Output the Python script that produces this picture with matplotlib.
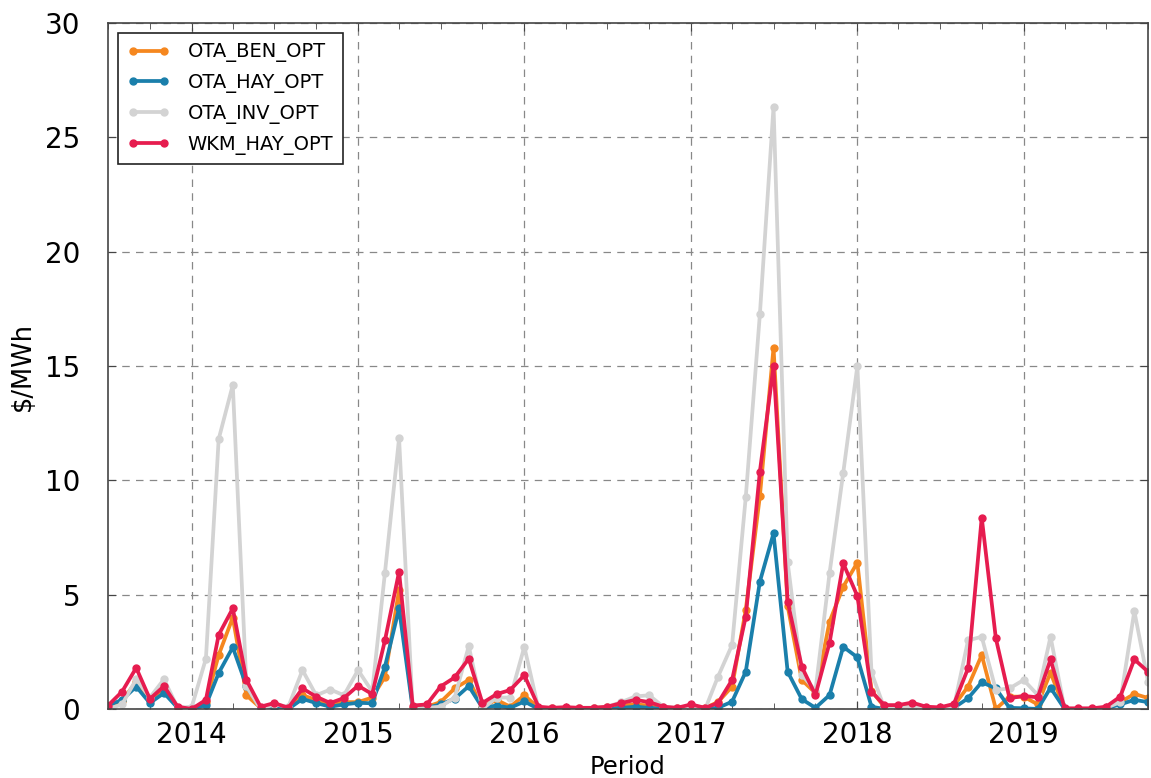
import numpy as np
import pandas as pd
import matplotlib
matplotlib.use('Agg')
import matplotlib.pyplot as plt
import matplotlib.dates as mdates

periods = pd.date_range('2013-07-01', periods=76, freq='MS')

ota_ben = [0.10, 0.35, 1.20, 0.40, 0.90, 0.05, 0.00, 0.30, 2.36, 4.00,
           0.60, 0.05, 0.20, 0.05, 0.60, 0.40, 0.20, 0.30, 0.30, 0.50,
           1.41, 5.20, 0.05, 0.10, 0.30, 0.90, 1.27, 0.10, 0.40, 0.10,
           0.60, 0.05, 0.05, 0.05, 0.05, 0.05, 0.10, 0.15, 0.20, 0.15,
           0.05, 0.05, 0.10, 0.05, 0.30, 0.98, 4.33, 9.31, 15.80, 4.50,
           1.27, 0.70, 3.82, 5.35, 6.40, 0.80, 0.10, 0.10, 0.15, 0.05,
           0.05, 0.15, 0.98, 2.36, 0.00, 0.54, 0.54, 0.20, 1.59, 0.00,
           0.00, 0.00, 0.05, 0.30, 0.66, 0.48]

ota_hay = [0.15, 0.40, 0.98, 0.26, 0.70, 0.05, 0.00, 0.17, 1.57, 2.70,
           1.00, 0.05, 0.05, 0.00, 0.44, 0.26, 0.10, 0.20, 0.27, 0.25,
           1.85, 4.40, 0.00, 0.05, 0.20, 0.45, 1.00, 0.05, 0.15, 0.05,
           0.33, 0.00, 0.00, 0.00, 0.00, 0.00, 0.00, 0.05, 0.10, 0.05,
           0.00, 0.00, 0.05, 0.00, 0.05, 0.32, 1.63, 5.57, 7.68, 1.63,
           0.43, 0.05, 0.61, 2.72, 2.26, 0.10, 0.00, 0.00, 0.05, 0.00,
           0.00, 0.05, 0.47, 1.17, 0.90, 0.05, 0.03, 0.00, 0.93, 0.00,
           0.00, 0.00, 0.03, 0.20, 0.40, 0.30]

ota_inv = [0.00, 0.20, 1.30, 0.50, 1.30, 0.05, 0.10, 2.20, 11.80, 14.17,
           1.00, 0.00, 0.20, 0.10, 1.70, 0.60, 0.85, 0.60, 1.70, 0.76,
           5.96, 11.84, 0.00, 0.05, 0.10, 0.50, 2.75, 0.00, 0.50, 0.50,
           2.72, 0.00, 0.05, 0.05, 0.05, 0.05, 0.10, 0.30, 0.55, 0.60,
           0.10, 0.05, 0.10, 0.00, 1.41, 2.80, 9.26, 17.26, 26.34, 6.41,
           1.50, 0.80, 5.95, 10.33, 15.00, 1.60, 0.05, 0.05, 0.10, 0.05,
           0.05, 0.10, 3.00, 3.16, 0.83, 0.90, 1.27, 0.61, 3.16, 0.00,
           0.00, 0.00, 0.05, 0.30, 4.28, 1.20]

wkm_hay = [0.15, 0.76, 1.80, 0.44, 1.00, 0.10, 0.00, 0.40, 3.24, 4.40,
           1.27, 0.10, 0.26, 0.05, 0.90, 0.54, 0.26, 0.48, 1.02, 0.65,
           3.00, 6.00, 0.15, 0.20, 0.98, 1.38, 2.20, 0.26, 0.65, 0.83,
           1.48, 0.10, 0.05, 0.08, 0.05, 0.05, 0.10, 0.26, 0.40, 0.30,
           0.10, 0.05, 0.20, 0.05, 0.26, 1.27, 4.04, 10.38, 15.00, 4.70,
           1.85, 0.61, 2.90, 6.37, 4.94, 0.76, 0.17, 0.17, 0.28, 0.10,
           0.07, 0.22, 1.78, 8.37, 3.09, 0.47, 0.57, 0.51, 2.17, 0.03,
           0.03, 0.03, 0.10, 0.54, 2.17, 1.63]

series = [
    ('OTA_BEN_OPT', ota_ben, '#f5871f'),
    ('OTA_HAY_OPT', ota_hay, '#1a7fab'),
    ('OTA_INV_OPT', ota_inv, '#d3d3d3'),
    ('WKM_HAY_OPT', wkm_hay, '#e61c4f'),
]

fig = plt.figure(figsize=(11.51, 7.78), dpi=100)
ax = fig.add_axes([0.0938, 0.0887, 0.9036, 0.8817])

for name, vals, col in series:
    ax.plot(periods, vals, color=col, lw=2.7, marker='o', ms=5,
            mec=col, label=name)

ax.set_xlim(periods[0], periods[-1])
ax.set_ylim(0, 30)
ax.set_yticks([0, 5, 10, 15, 20, 25, 30])

ax.xaxis.set_major_locator(mdates.YearLocator())
ax.xaxis.set_major_formatter(mdates.DateFormatter('%Y'))
ax.xaxis.set_minor_locator(mdates.MonthLocator(bymonth=(1, 4, 7, 10)))

ax.grid(True, which='major', linestyle=(0, (6, 5)), color='#888888', lw=0.9)
ax.tick_params(which='both', direction='in', top=True, right=True,
               color='#444444')
ax.tick_params(which='major', length=6)
ax.tick_params(which='minor', length=4)
ax.tick_params(axis='x', labelsize=20, pad=9)
ax.tick_params(axis='y', labelsize=20, pad=20)
for s in ax.spines.values():
    s.set_color('#444444')
    s.set_linewidth(1.2)

ax.set_xlabel('Period', fontsize=17.5, labelpad=4)
ax.set_ylabel('$/MWh', fontsize=18.5, labelpad=6)

leg = ax.legend(loc='upper left', fontsize=14, numpoints=2, fancybox=False,
                framealpha=1, edgecolor='#222222', handlelength=2.2,
                borderpad=0.5, labelspacing=0.55, handletextpad=0.9,
                bbox_to_anchor=(0.0, 1.0))
leg.get_frame().set_linewidth(1.2)

fig.savefig('out.png', dpi=100)
